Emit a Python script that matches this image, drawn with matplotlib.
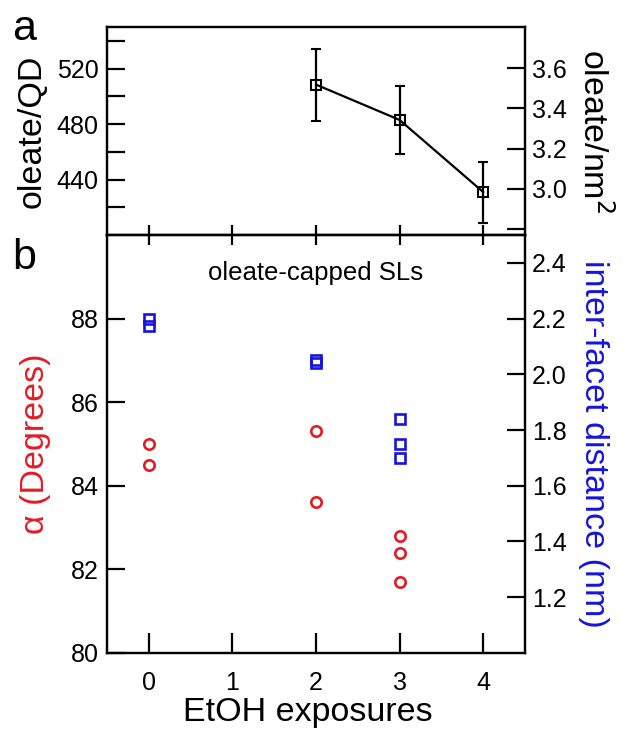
import matplotlib
matplotlib.use("Agg")
import matplotlib.pyplot as plt

plt.rcParams['font.family'] = ['Liberation Sans', 'DejaVu Sans']

# panel a: oleate coverage vs EtOH exposures
a_x = [2, 3, 4]
a_oleate_qd = [508.5, 483, 431]
a_err = [26, 24.5, 22]
qd_per_nm2 = 144.5  # oleate/QD -> oleate/nm^2

# panel b: alpha (red, left) and inter-facet distance (blue, right)
alpha_x = [0, 0, 2, 2, 3, 3, 3]
alpha_deg = [85.0, 84.5, 85.3, 83.6, 82.8, 82.4, 81.7]
dist_x = [0, 0, 2, 2, 3, 3, 3]
dist_nm = [2.20, 2.175, 2.05, 2.04, 1.84, 1.75, 1.70]

red = '#e31c24'
blue = '#1414dc'
fs_tick = 18
fs_lab = 24.5
lw = 1.6

fig = plt.figure(figsize=(6.23, 7.29), dpi=100)
L, W = 0.1717, 0.671
ax_a = fig.add_axes([L, 0.6776, W, 0.2853])
ax_b = fig.add_axes([L, 0.1043, W, 0.5734])

for ax in (ax_a, ax_b):
    for s in ax.spines.values():
        s.set_linewidth(lw)
    ax.set_xlim(-0.5, 4.5)
    ax.set_xticks([0, 1, 2, 3, 4])

# ---- panel a
ax_a.errorbar(a_x, a_oleate_qd, yerr=a_err, color='k', lw=lw, marker='s',
              ms=7, mfc='none', mew=1.5, capsize=3.5, capthick=lw, elinewidth=lw)
ax_a.set_ylim(400, 550)
ax_a.set_yticks([420, 440, 460, 480, 500, 520, 540])
ax_a.set_yticklabels(['', '440', '', '480', '', '520', ''])
ax_a.tick_params(axis='y', direction='in', length=13, width=lw, labelsize=fs_tick, pad=6)
ax_a.tick_params(axis='x', direction='in', length=7, width=lw, labelbottom=False)
ax_a.set_ylabel('oleate/QD', fontsize=fs_lab, va='center', ha='center')
ax_a.yaxis.set_label_coords(-0.179, 0.5)

ax_a2 = ax_a.twinx()
ax_a2.set_ylim(400 / qd_per_nm2, 550 / qd_per_nm2)
ax_a2.set_yticks([2.8, 3.0, 3.2, 3.4, 3.6])
ax_a2.set_yticklabels(['', '3.0', '3.2', '3.4', '3.6'])
ax_a2.tick_params(axis='y', direction='in', length=13, width=lw, labelsize=fs_tick, pad=5)
ax_a2.set_ylabel('oleate/nm$^2$', fontsize=fs_lab, rotation=270, va='center', ha='center')
ax_a2.yaxis.set_label_coords(1.165, 0.5)
for s in ax_a2.spines.values():
    s.set_linewidth(lw)

# ---- panel b
ax_b.plot(alpha_x, alpha_deg, 'o', ls='none', ms=7.5, mfc='none', mec=red, mew=1.9)
ax_b.set_ylim(80, 90)
ax_b.set_yticks([80, 82, 84, 86, 88])
ax_b.tick_params(axis='y', direction='in', length=13, width=lw, labelsize=fs_tick, pad=6)
ax_b.tick_params(axis='x', direction='in', length=14.5, width=lw, labelsize=fs_tick,
                 pad=13, top=True)
ax_b.set_xlabel('EtOH exposures', fontsize=fs_lab, labelpad=0)
ax_b.xaxis.set_label_coords(0.48, -0.106)
ax_b.set_ylabel('α (Degrees)', fontsize=fs_lab, color=red, va='center', ha='center')
ax_b.yaxis.set_label_coords(-0.17, 0.5)
ax_b.text(2, 89.08, 'oleate-capped SLs', ha='center', va='center', fontsize=18.5)

ax_b2 = ax_b.twinx()
ax_b2.plot(dist_x, dist_nm, 's', ls='none', ms=7, mfc='none', mec=blue, mew=1.9)
ax_b2.set_ylim(1.0, 2.5)
ax_b2.set_yticks([1.2, 1.4, 1.6, 1.8, 2.0, 2.2, 2.4])
ax_b2.tick_params(axis='y', direction='in', length=13, width=lw, labelsize=fs_tick, pad=5)
ax_b2.set_ylabel('inter-facet distance (nm)', fontsize=fs_lab, color=blue,
                 rotation=270, va='center', ha='center')
ax_b2.yaxis.set_label_coords(1.163, 0.5)
for s in ax_b2.spines.values():
    s.set_linewidth(lw)

# shorter ticks on the top edge of panel b
for t in ax_b.xaxis.get_major_ticks():
    t.tick2line.set_markersize(7)

fig.text(24 / 623, 1 - 29 / 729, 'a', fontsize=31, va='center', ha='center')
fig.text(24 / 623, 1 - 258 / 729, 'b', fontsize=31, va='center', ha='center')

fig.savefig('out.png', dpi=100)
